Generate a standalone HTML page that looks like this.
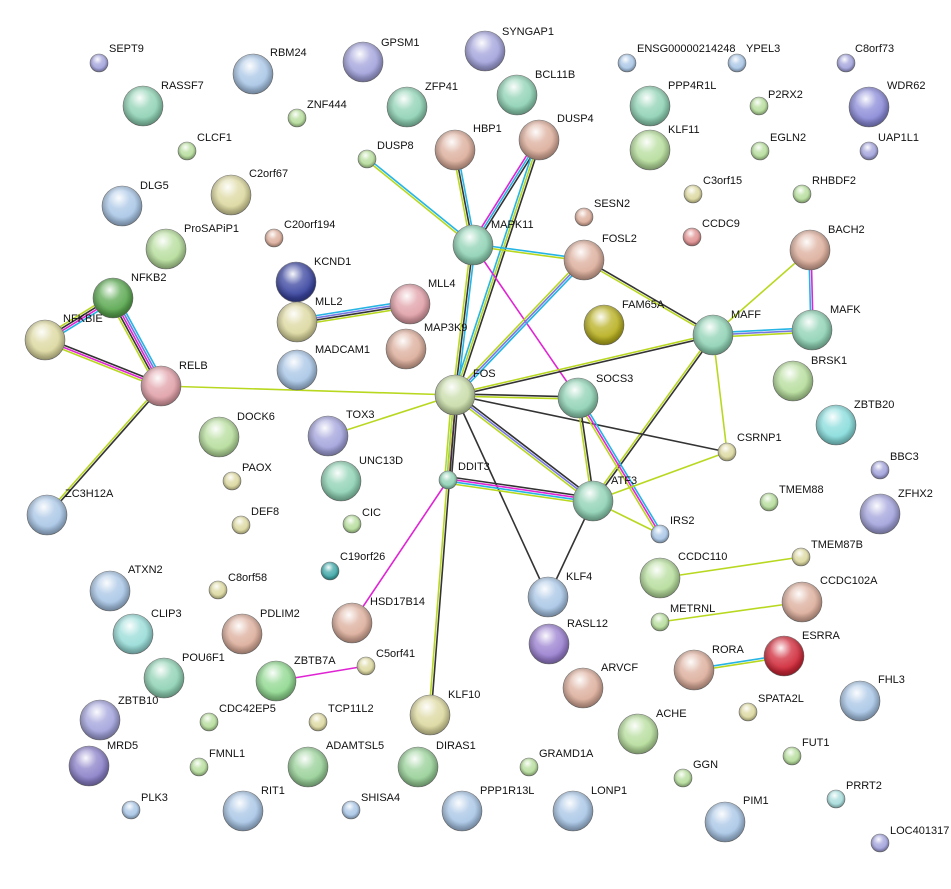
<!DOCTYPE html>
<html><head><meta charset="utf-8"><style>
html,body{margin:0;padding:0;background:#fff}
svg{display:block}
text{font-family:"Liberation Sans",sans-serif;font-size:11px;fill:#111}
</style></head><body>
<svg id="s" width="951" height="889" viewBox="0 0 951 889" xmlns="http://www.w3.org/2000/svg">
<defs>
<radialGradient id="hl" cx="0.42" cy="0.3" r="0.6"><stop offset="0" stop-color="#fff" stop-opacity="0.95"/><stop offset="0.45" stop-color="#fff" stop-opacity="0.25"/><stop offset="1" stop-color="#fff" stop-opacity="0"/></radialGradient>
<radialGradient id="rim" cx="0.5" cy="0.45" r="0.55"><stop offset="0.6" stop-color="#000" stop-opacity="0"/><stop offset="1" stop-color="#000" stop-opacity="0.35"/></radialGradient>
</defs>
<g id="edges"></g>
<g id="nodes"></g>
<g id="labels">
<text x="109" y="52">SEPT9</text>
<text x="270" y="56">RBM24</text>
<text x="381" y="46">GPSM1</text>
<text x="502" y="35">SYNGAP1</text>
<text x="637" y="52">ENSG00000214248</text>
<text x="746" y="52">YPEL3</text>
<text x="855" y="52">C8orf73</text>
<text x="161" y="89">RASSF7</text>
<text x="307" y="108">ZNF444</text>
<text x="425" y="90">ZFP41</text>
<text x="535" y="78">BCL11B</text>
<text x="668" y="89">PPP4R1L</text>
<text x="768" y="98">P2RX2</text>
<text x="887" y="89">WDR62</text>
<text x="878" y="141">UAP1L1</text>
<text x="197" y="141">CLCF1</text>
<text x="377" y="149">DUSP8</text>
<text x="473" y="132">HBP1</text>
<text x="557" y="122">DUSP4</text>
<text x="668" y="133">KLF11</text>
<text x="770" y="141">EGLN2</text>
<text x="249" y="177">C2orf67</text>
<text x="140" y="189">DLG5</text>
<text x="703" y="184">C3orf15</text>
<text x="812" y="184">RHBDF2</text>
<text x="594" y="207">SESN2</text>
<text x="284" y="228">C20orf194</text>
<text x="702" y="227">CCDC9</text>
<text x="184" y="232">ProSAPiP1</text>
<text x="491" y="228">MAPK11</text>
<text x="602" y="242">FOSL2</text>
<text x="828" y="233">BACH2</text>
<text x="314" y="265">KCND1</text>
<text x="131" y="281">NFKB2</text>
<text x="428" y="287">MLL4</text>
<text x="622" y="308">FAM65A</text>
<text x="731" y="318">MAFF</text>
<text x="830" y="313">MAFK</text>
<text x="315" y="305">MLL2</text>
<text x="63" y="322">NFKBIE</text>
<text x="424" y="331">MAP3K9</text>
<text x="315" y="353">MADCAM1</text>
<text x="179" y="369">RELB</text>
<text x="473" y="377">FOS</text>
<text x="596" y="382">SOCS3</text>
<text x="811" y="364">BRSK1</text>
<text x="237" y="420">DOCK6</text>
<text x="346" y="418">TOX3</text>
<text x="854" y="408">ZBTB20</text>
<text x="737" y="441">CSRNP1</text>
<text x="458" y="470">DDIT3</text>
<text x="890" y="460">BBC3</text>
<text x="242" y="471">PAOX</text>
<text x="359" y="464">UNC13D</text>
<text x="611" y="484">ATF3</text>
<text x="898" y="497">ZFHX2</text>
<text x="779" y="493">TMEM88</text>
<text x="65" y="497">ZC3H12A</text>
<text x="670" y="524">IRS2</text>
<text x="251" y="515">DEF8</text>
<text x="362" y="516">CIC</text>
<text x="340" y="560">C19orf26</text>
<text x="811" y="548">TMEM87B</text>
<text x="678" y="560">CCDC110</text>
<text x="820" y="584">CCDC102A</text>
<text x="128" y="573">ATXN2</text>
<text x="228" y="581">C8orf58</text>
<text x="566" y="580">KLF4</text>
<text x="370" y="605">HSD17B14</text>
<text x="670" y="612">METRNL</text>
<text x="151" y="617">CLIP3</text>
<text x="260" y="617">PDLIM2</text>
<text x="567" y="627">RASL12</text>
<text x="376" y="657">C5orf41</text>
<text x="712" y="653">RORA</text>
<text x="802" y="639">ESRRA</text>
<text x="182" y="661">POU6F1</text>
<text x="294" y="664">ZBTB7A</text>
<text x="601" y="671">ARVCF</text>
<text x="118" y="704">ZBTB10</text>
<text x="219" y="712">CDC42EP5</text>
<text x="328" y="712">TCP11L2</text>
<text x="448" y="698">KLF10</text>
<text x="656" y="717">ACHE</text>
<text x="758" y="702">SPATA2L</text>
<text x="878" y="683">FHL3</text>
<text x="107" y="749">MRD5</text>
<text x="209" y="757">FMNL1</text>
<text x="326" y="749">ADAMTSL5</text>
<text x="436" y="749">DIRAS1</text>
<text x="539" y="757">GRAMD1A</text>
<text x="693" y="768">GGN</text>
<text x="802" y="746">FUT1</text>
<text x="141" y="801">PLK3</text>
<text x="261" y="794">RIT1</text>
<text x="361" y="801">SHISA4</text>
<text x="480" y="794">PPP1R13L</text>
<text x="591" y="794">LONP1</text>
<text x="743" y="804">PIM1</text>
<text x="846" y="789">PRRT2</text>
<text x="890" y="834">LOC401317</text>
</g>
</svg>
<script>
var G='#b6dd9c',T='#8fd2b4',P='#a3a3dc',B='#a9c6e6',Y='#dcd8a0',S='#dcae9c',K='#e0a0a8';
var N={SEPT9:[99,63,9,P],RBM24:[253,74,20,B],GPSM1:[363,62,20,P],SYNGAP1:[485,51,20,P],ENSG:[627,63,9,B],YPEL3:[737,63,9,B],C8orf73:[846,63,9,P],
RASSF7:[143,106,20,T],ZNF444:[297,118,9,G],ZFP41:[407,107,20,T],BCL11B:[517,95,20,T],PPP4R1L:[650,106,20,T],P2RX2:[759,106,9,G],WDR62:[869,107,20,'#8a8ad8'],
UAP1L1:[869,151,9,P],CLCF1:[187,151,9,G],DUSP8:[367,159,9,G],HBP1:[455,150,20,S],DUSP4:[539,140,20,S],KLF11:[650,150,20,G],EGLN2:[760,151,9,G],
C2orf67:[231,195,20,Y],DLG5:[122,206,20,B],C3orf15:[693,194,9,Y],RHBDF2:[802,194,9,G],SESN2:[584,217,9,S],C20orf194:[274,238,9,S],CCDC9:[692,237,9,'#e09090'],
ProSAPiP1:[166,249,20,G],MAPK11:[473,245,20,T],FOSL2:[584,260,20,S],BACH2:[810,250,20,S],KCND1:[296,282,20,'#3a45a0'],NFKB2:[113,298,20,'#5aa850'],
MLL4:[410,304,20,K],FAM65A:[604,325,20,'#b8b020'],MAFF:[713,335,20,T],MAFK:[812,330,20,T],MLL2:[297,322,20,Y],NFKBIE:[45,340,20,Y],MAP3K9:[406,349,20,S],
MADCAM1:[297,370,20,B],RELB:[161,386,20,K],FOS:[455,395,20,'#c8dca8'],SOCS3:[578,398,20,T],BRSK1:[793,381,20,G],DOCK6:[219,437,20,G],TOX3:[328,436,20,P],
ZBTB20:[836,425,20,'#88dcdc'],CSRNP1:[727,452,9,Y],DDIT3:[448,480,9,T],BBC3:[880,470,9,P],PAOX:[232,481,9,Y],UNC13D:[341,481,20,T],ATF3:[593,501,20,T],
ZFHX2:[880,514,20,P],TMEM88:[769,502,9,G],ZC3H12A:[47,515,20,B],IRS2:[660,534,9,B],DEF8:[241,525,9,Y],CIC:[352,524,9,G],C19orf26:[330,571,9,'#40a8a8'],
TMEM87B:[801,557,9,Y],CCDC110:[660,578,20,G],CCDC102A:[802,602,20,S],ATXN2:[110,591,20,B],C8orf58:[218,590,9,Y],KLF4:[548,597,20,B],HSD17B14:[352,623,20,S],
METRNL:[660,622,9,G],CLIP3:[133,634,20,'#98dcd8'],PDLIM2:[242,634,20,S],RASL12:[549,644,20,'#9a80d0'],C5orf41:[366,666,9,Y],RORA:[694,670,20,S],ESRRA:[784,656,20,'#d02838'],
POU6F1:[164,678,20,T],ZBTB7A:[276,681,20,'#90d890'],ARVCF:[583,688,20,S],ZBTB10:[100,720,20,P],CDC42EP5:[209,722,9,G],TCP11L2:[318,722,9,Y],KLF10:[430,715,20,Y],
ACHE:[638,734,20,G],SPATA2L:[748,712,9,Y],FHL3:[860,701,20,B],MRD5:[89,766,20,'#8a80c8'],FMNL1:[199,767,9,G],ADAMTSL5:[308,767,20,'#98d098'],DIRAS1:[418,767,20,'#98d098'],
GRAMD1A:[529,767,9,G],GGN:[683,778,9,G],FUT1:[792,756,9,G],PLK3:[131,810,9,B],RIT1:[243,811,20,B],SHISA4:[351,810,9,B],PPP1R13L:[462,811,20,B],LONP1:[573,811,20,B],
PIM1:[725,822,20,B],PRRT2:[836,799,9,'#a8dcdc'],LOC401317:[880,843,9,P]};
var C={k:'#333',b:'#25b4e4',p:'#e024d4',y:'#b8d820',v:'#7676e0'};
var E=[['NFKB2','NFKBIE','bpky'],['NFKB2','RELB','bvpky'],['NFKBIE','RELB','kpy'],['RELB','FOS','y'],['RELB','ZC3H12A','ky'],
['MLL2','MLL4','bvky'],['DUSP8','MAPK11','by'],['HBP1','MAPK11','bky'],['DUSP4','MAPK11','kbp'],['DUSP4','FOS','kyb'],
['MAPK11','FOSL2','by'],['MAPK11','FOS','bky'],['MAPK11','SOCS3','p'],['FOSL2','FOS','bvy'],['FOSL2','MAFF','ky'],
['BACH2','MAFF','y'],['BACH2','MAFK','pb'],['MAFF','MAFK','bvy'],['MAFF','FOS','ky'],['MAFF','ATF3','ky'],['MAFF','CSRNP1','y'],
['FOS','SOCS3','ky'],['FOS','CSRNP1','k'],['FOS','ATF3','kvy'],['FOS','DDIT3','kpby'],['FOS','KLF4','k'],['FOS','KLF10','ky'],['FOS','TOX3','y'],
['DDIT3','ATF3','kpby'],['DDIT3','HSD17B14','p'],['SOCS3','ATF3','ky'],['SOCS3','IRS2','bpy'],['ATF3','CSRNP1','y'],['ATF3','KLF4','k'],['ATF3','IRS2','y'],
['CCDC110','TMEM87B','y'],['METRNL','CCDC102A','y'],['RORA','ESRRA','by'],['ZBTB7A','C5orf41','p']];
var ns='http://www.w3.org/2000/svg',eg=document.getElementById('edges'),ng=document.getElementById('nodes');
function el(t,a,p){var e=document.createElementNS(ns,t);for(var k in a)e.setAttribute(k,a[k]);p.appendChild(e);return e;}
E.forEach(function(e){var a=N[e[0]],b=N[e[1]],dx=b[0]-a[0],dy=b[1]-a[1],L=Math.hypot(dx,dy),px=-dy/L,py=dx/L,n=e[2].length;
for(var i=0;i<n;i++){var o=(i-(n-1)/2)*2.2;el('line',{x1:a[0]+px*o,y1:a[1]+py*o,x2:b[0]+px*o,y2:b[1]+py*o,stroke:C[e[2][i]],'stroke-width':1.6},eg);}});
for(var k in N){var d=N[k];el('circle',{cx:d[0],cy:d[1],r:d[2],fill:d[3],stroke:'#777','stroke-width':0.6},ng);
el('circle',{cx:d[0],cy:d[1],r:d[2],fill:'url(#rim)'},ng);el('circle',{cx:d[0],cy:d[1],r:d[2],fill:'url(#hl)'},ng);}
</script>
</body></html>
